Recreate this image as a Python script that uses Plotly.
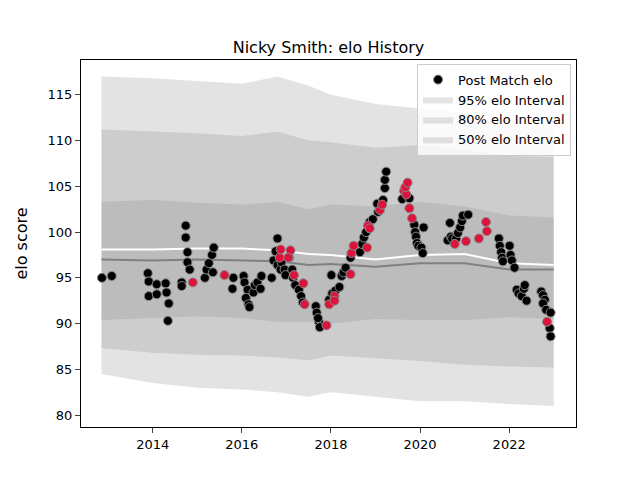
import plotly.graph_objects as go

# band knots (decimal year)
band_t = [2012.85, 2014.0, 2015.0, 2016.0, 2016.8, 2017.5, 2018.0, 2019.0, 2020.0, 2021.0, 2022.0, 2023.0]
up95 = [117.0, 116.8, 116.5, 116.2, 117.0, 116.0, 115.0, 114.0, 113.5, 113.0, 111.5, 111.3]
lo95 = [84.5, 83.5, 83.0, 82.8, 82.5, 82.0, 82.5, 82.0, 81.5, 81.5, 81.2, 81.0]
up80 = [111.2, 111.0, 110.8, 110.5, 111.0, 110.0, 109.8, 109.2, 109.5, 109.0, 108.3, 108.2]
lo80 = [87.3, 86.8, 86.6, 86.5, 86.3, 86.0, 86.5, 86.2, 85.9, 85.5, 85.3, 85.2]
up50 = [103.3, 103.5, 103.2, 103.0, 103.3, 102.5, 103.0, 102.8, 103.3, 102.8, 101.8, 101.6]
lo50 = [90.4, 90.6, 90.8, 90.6, 90.2, 90.2, 90.0, 90.5, 90.4, 90.4, 90.7, 90.5]
median = [97.0, 96.9, 97.0, 96.9, 96.8, 96.4, 96.5, 96.2, 96.6, 96.6, 95.9, 95.9]
mean_line = [98.1, 98.1, 98.2, 98.2, 98.0, 97.6, 97.5, 97.0, 97.5, 97.6, 96.6, 96.4]

# post-match elo, black markers
black_t = [2012.86, 2013.08, 2013.89, 2013.91, 2013.91, 2014.09, 2014.09, 2014.29, 2014.31, 2014.36, 2014.34,
           2014.74, 2014.74, 2014.78, 2014.78, 2014.83, 2014.65, 2014.65,
           2015.17, 2015.21, 2015.26, 2015.33, 2015.37, 2015.35,
           2015.81, 2015.79, 2016.04, 2016.06, 2016.13, 2016.09, 2016.15, 2016.17, 2016.26, 2016.29, 2016.35, 2016.44, 2016.42,
           2016.67, 2016.71, 2016.80, 2016.76, 2016.80, 2016.87, 2016.89, 2016.96, 2016.98, 2017.06, 2017.13, 2017.15,
           2017.20, 2017.28, 2017.33, 2017.37,
           2017.66, 2017.68, 2017.73, 2017.75, 2017.71, 2017.96, 2018.03, 2018.01, 2018.10, 2018.19, 2018.24, 2018.28, 2018.33,
           2018.44, 2018.65, 2018.70, 2018.74, 2018.79, 2018.87, 2018.94,
           2019.06, 2019.04, 2019.17, 2019.21, 2019.21, 2019.24,
           2019.60, 2019.76, 2019.87, 2019.89, 2019.91, 2019.93, 2019.96, 2020.03, 2020.06, 2020.08,
           2020.62, 2020.69, 2020.67, 2020.72, 2020.81, 2020.85, 2020.90, 2020.94, 2020.96, 2021.08,
           2021.77, 2021.79, 2021.82, 2021.84, 2021.86, 2022.01, 2022.03, 2022.06, 2022.12,
           2022.17, 2022.21, 2022.28, 2022.33, 2022.35, 2022.39,
           2022.72, 2022.76, 2022.80, 2022.76, 2022.83, 2022.93, 2022.91, 2022.93]
black_elo = [95.0, 95.2, 95.5, 94.6, 93.0, 94.3, 93.2, 94.4, 93.4, 92.2, 90.3,
             100.7, 99.4, 97.8, 96.7, 95.9, 94.5, 94.1,
             95.0, 95.9, 96.6, 97.5, 98.3, 95.6,
             95.0, 93.8, 95.2, 94.5, 93.7, 92.8, 92.1, 91.8, 93.4, 94.2, 94.5, 95.2, 93.8,
             95.0, 96.9, 99.3, 97.9, 96.4, 95.9, 96.7, 95.9, 95.3, 97.2, 95.9, 95.0,
             94.2, 93.7, 93.0, 92.3,
             91.9, 91.2, 90.2, 89.6, 90.6, 92.6, 93.3, 95.3, 93.6, 94.0, 95.2, 95.6, 96.1,
             97.2, 97.8, 98.7, 99.4, 100.0, 101.1, 101.4,
             102.2, 103.1, 103.5, 104.8, 105.7, 106.6,
             103.6, 103.7, 100.8, 100.0, 99.5, 98.8, 98.5, 98.3, 97.7, 100.5,
             99.1, 99.5, 101.0, 99.3, 99.3, 99.9, 100.5, 101.2, 101.8, 101.9,
             99.3, 98.5, 97.8, 97.2, 96.8, 98.5, 97.5, 96.9, 96.1,
             93.7, 93.3, 93.0, 93.8, 94.2, 92.5,
             93.5, 93.1, 92.6, 92.2, 91.5, 91.2, 89.5, 88.6]

# post-match elo, red markers
red_t = [2014.90, 2015.61, 2016.85, 2016.87, 2017.09, 2017.04, 2017.17, 2017.38, 2017.41, 2017.90, 2017.96,
         2018.08, 2018.08, 2018.44, 2018.46, 2018.51, 2018.81, 2018.83, 2018.87, 2019.10, 2019.15,
         2019.64, 2019.69, 2019.67, 2019.72, 2019.76, 2019.82, 2020.78, 2021.03, 2021.32, 2021.48, 2021.50, 2022.85]
red_elo = [94.5, 95.3, 97.2, 98.1, 98.0, 97.2, 95.3, 94.4, 92.1, 89.8, 92.1,
           93.0, 92.5, 95.4, 97.7, 98.5, 98.3, 100.7, 100.4, 102.4, 103.0,
           104.5, 104.1, 104.9, 105.4, 102.6, 101.5, 98.7, 99.0, 99.3, 101.1, 100.1, 90.2]

fig = go.Figure()


def band(lo, hi, color, name, rank):
    fig.add_trace(go.Scatter(x=band_t, y=lo, mode='lines', line=dict(width=0),
                             showlegend=False, hoverinfo='skip'))
    fig.add_trace(go.Scatter(x=band_t, y=hi, mode='lines', line=dict(width=0),
                             fill='tonexty', fillcolor=color, name=name, legendrank=rank))


band(lo95, up95, 'rgba(128,128,128,0.22)', '95% elo Interval', 3)
band(lo80, up80, 'rgba(128,128,128,0.22)', '80% elo Interval', 2)
band(lo50, up50, 'rgba(128,128,128,0.22)', '50% elo Interval', 1)
fig.add_trace(go.Scatter(x=band_t, y=median, mode='lines', line=dict(color='#808080', width=2), showlegend=False))
fig.add_trace(go.Scatter(x=band_t, y=mean_line, mode='lines', line=dict(color='white', width=2), showlegend=False))
fig.add_trace(go.Scatter(x=black_t, y=black_elo, mode='markers', name='Post Match elo', legendrank=4,
                         marker=dict(color='black', size=9, line=dict(color='#888888', width=1))))
fig.add_trace(go.Scatter(x=red_t, y=red_elo, mode='markers', showlegend=False,
                         marker=dict(color='crimson', size=9, line=dict(color='#888888', width=1))))

fig.update_layout(
    width=640, height=480, plot_bgcolor='white', paper_bgcolor='white',
    margin=dict(l=73, r=72, t=52, b=61),
    font=dict(family='DejaVu Sans', color='black', size=13),
    title=dict(text='Nicky Smith: elo History', x=0.5, xref='paper', y=0.93, xanchor='center', font=dict(size=16)),
    legend=dict(x=0.99, y=0.99, xanchor='right', yanchor='top',
                bgcolor='rgba(255,255,255,0.8)', bordercolor='#cccccc', borderwidth=1, font=dict(size=13)),
)
fig.update_xaxes(range=[2012.39, 2023.5], tickvals=[2014, 2016, 2018, 2020, 2022], showgrid=False,
                 showline=True, linecolor='black', mirror=True, ticks='outside', zeroline=False)
fig.update_yaxes(range=[78.7, 118.8], tickvals=[80, 85, 90, 95, 100, 105, 110, 115], showgrid=False,
                 showline=True, linecolor='black', mirror=True, ticks='outside', zeroline=False,
                 title='elo score')
fig.write_html('out.html')
